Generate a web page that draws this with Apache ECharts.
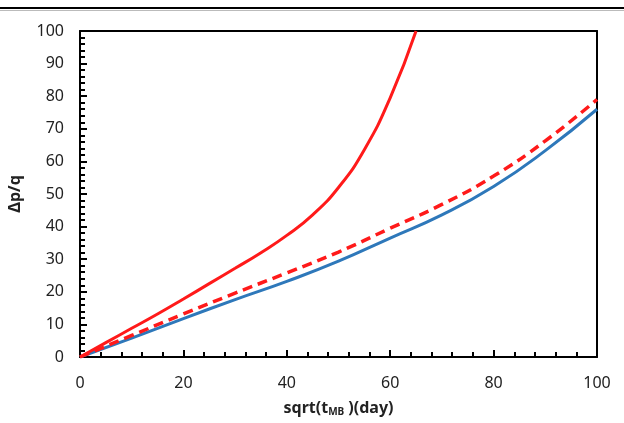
<!DOCTYPE html>
<html><head><meta charset="utf-8">
<script src="https://cdn.jsdelivr.net/npm/echarts@6/dist/echarts.min.js"></script>
<style>html,body{margin:0;padding:0;background:#fff}#c{width:624px;height:423px}</style>
</head><body><div id="c"></div>
<script>
// Data
const redSolidX = [0, 5, 10, 15, 20, 25, 30, 35, 40, 45, 50, 55, 60, 65];
const redSolidY = [0, 4.4, 8.8, 13.2, 17.8, 22.5, 27.2, 32.0, 37.3, 43.6, 52, 63.6, 79.5, 100];
const redDashX = [0, 10, 20, 30, 40, 50, 60, 70, 80, 90, 100];
const redDashY = [0, 6.6, 13.2, 19.6, 25.8, 32.2, 39.5, 46.8, 55.5, 66.3, 79];
const blueX = [0, 10, 20, 30, 40, 50, 60, 70, 80, 90, 100];
const blueY = [0, 5.8, 11.8, 17.6, 23.2, 29.4, 36.5, 43.6, 52.3, 63.3, 76];
const xTicks = [0, 20, 40, 60, 80, 100];
const yTicks = [0, 10, 20, 30, 40, 50, 60, 70, 80, 90, 100];

const pair = (xs, ys) => xs.map((x, i) => [x, ys[i]]);
const chart = echarts.init(document.getElementById('c'), null, {renderer: 'canvas'});
const font = 'Noto Sans';
const tick = {show: true, inside: true, length: 7, lineStyle: {color: '#000', width: 2}};
const minor = {show: true, splitNumber: 5, length: 5, lineStyle: {color: '#000', width: 2}};
chart.setOption({
  animation: false,
  backgroundColor: '#fff',
  grid: {left: 80, right: 27, top: 31, bottom: 66, show: false, outerBoundsMode: 'none', containLabel: false},
  graphic: [
    {type: 'line', shape: {x1: 0, y1: 8, x2: 624, y2: 8}, style: {stroke: '#000', lineWidth: 2}},
    {type: 'line', shape: {x1: 0, y1: 10.5, x2: 624, y2: 10.5}, style: {stroke: '#bbb', lineWidth: 1}}
  ],
  xAxis: [{
    type: 'value', position: 'bottom', min: xTicks[0], max: xTicks[xTicks.length - 1], interval: 20,
    axisLine: {show: true, onZero: false, lineStyle: {color: '#000', width: 2}},
    axisTick: tick, minorTick: minor,
    splitLine: {show: false}, minorSplitLine: {show: false},
    axisLabel: {fontFamily: font, fontSize: 16, color: '#222', margin: 18},
    name: '{n|sqrt(t}{s|MB}{n| )(day)}', nameLocation: 'middle', nameGap: 42,
    nameTextStyle: {rich: {
      n: {fontFamily: font, fontSize: 16, fontWeight: 'bold', color: '#222'},
      s: {fontFamily: font, fontSize: 10, fontWeight: 'bold', color: '#222', verticalAlign: 'bottom', padding: [8, 0, 0, 0]}
    }}
  }, {
    type: 'value', position: 'top', min: 0, max: 100,
    axisLine: {show: true, onZero: false, lineStyle: {color: '#000', width: 2}},
    axisTick: {show: false}, axisLabel: {show: false}, splitLine: {show: false}
  }],
  yAxis: [{
    type: 'value', position: 'left', min: yTicks[0], max: yTicks[yTicks.length - 1], interval: 10,
    axisLine: {show: true, onZero: false, lineStyle: {color: '#000', width: 2}},
    axisTick: tick, minorTick: minor,
    splitLine: {show: false}, minorSplitLine: {show: false},
    axisLabel: {fontFamily: font, fontSize: 16, color: '#222', margin: 16},
    name: 'Δp/q', nameLocation: 'middle', nameGap: 57, nameRotate: 90,
    nameTextStyle: {fontFamily: font, fontSize: 16, fontWeight: 'bold', color: '#222'}
  }, {
    type: 'value', position: 'right', min: 0, max: 100,
    axisLine: {show: true, onZero: false, lineStyle: {color: '#000', width: 2}},
    axisTick: {show: false}, axisLabel: {show: false}, splitLine: {show: false}
  }],
  series: [
    {type: 'line', data: pair(blueX, blueY), smooth: true, showSymbol: false, clip: true,
     lineStyle: {color: '#2e78ba', width: 3}},
    {type: 'line', data: pair(redDashX, redDashY), smooth: true, showSymbol: false, clip: true,
     lineStyle: {color: '#ff1a1a', width: 3.5, type: [10, 6]}},
    {type: 'line', data: pair(redSolidX, redSolidY), smooth: true, showSymbol: false, clip: true,
     lineStyle: {color: '#ff1a1a', width: 3}}
  ]
});
</script></body></html>
